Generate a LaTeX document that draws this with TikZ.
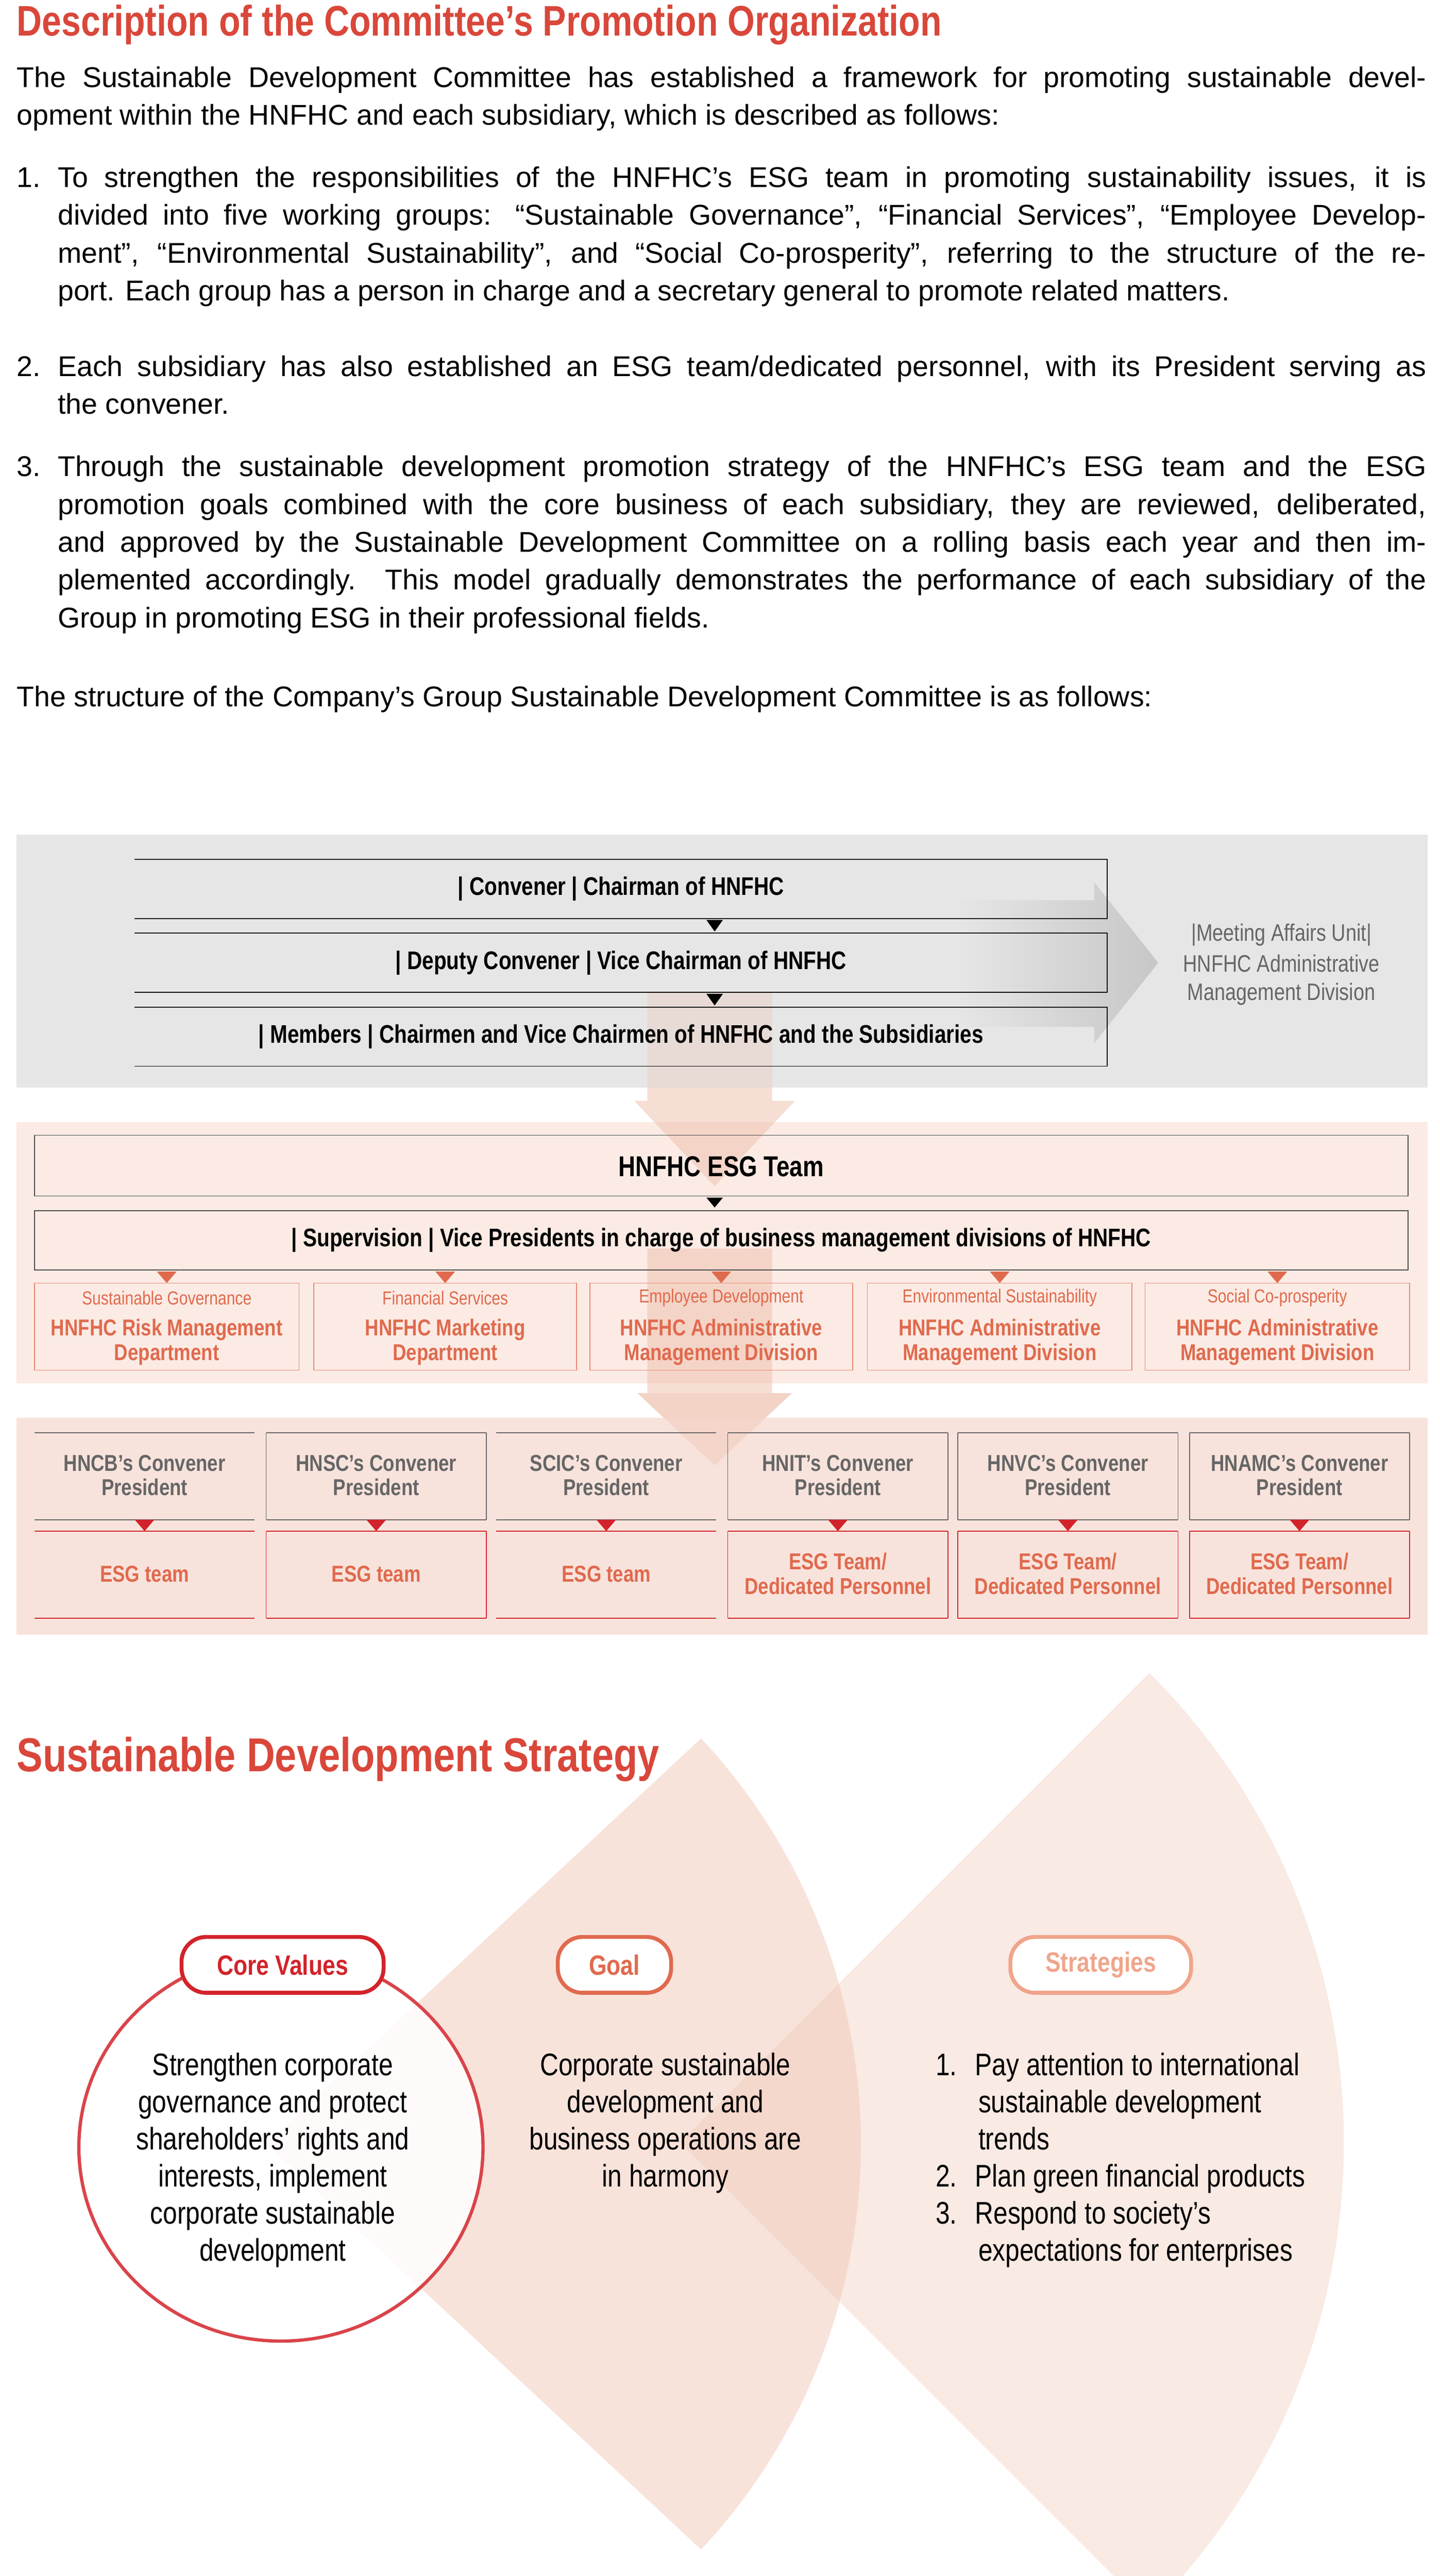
\documentclass[tikz,border=0pt]{standalone}
\usepackage{fontspec}
\setmainfont{Liberation Sans}
\newfontfamily\cf[FakeStretch=0.82]{Liberation Sans}
\definecolor{tred}{HTML}{D9473A}
\definecolor{bandA}{HTML}{E6E6E6}
\definecolor{bandB}{HTML}{FBEBE4}
\definecolor{bandC}{HTML}{F8E3DC}
\definecolor{sred}{HTML}{E06A4E}
\definecolor{dred}{HTML}{D2232A}
\definecolor{gtxt}{HTML}{666666}
\definecolor{leaf}{HTML}{EFC2B0}
\definecolor{pale}{HTML}{F0A58B}
\newcommand\jl[4]{\node[anchor=base west,inner sep=0] (#1) at (#2) {\hbox to #3pt{#4}};}
\newcommand\nl[3]{\node[anchor=base west,inner sep=0] (#1) at (#2) {#3};}
\begin{document}
\begin{tikzpicture}[x=1pt,y=-1pt,
  body/.style={font=\fontsize{17.4}{20}\selectfont},
  topbox/.style={draw=black,line width=0.6pt},
  gtri/.style={fill=black},
  rtri/.style={fill=sred},
  dtri/.style={fill=dred},
  wg/.style={draw=sred!80,line width=0.5pt},
  pill/.style={rounded corners=15pt,fill=white,line width=2.4pt},
  varrow/.style={fill=leaf,fill opacity=0.55}]
\useasboundingbox (0,0) rectangle (876.2,1568);
% ---------- top text ----------
\node[anchor=west,inner sep=0,text=tred,font=\cf\bfseries\fontsize{26}{30}\selectfont] (t1) at (10,15) {Description of the Committee’s Promotion Organization};
\begin{scope}[body]
\jl{l1}{10,53}{858}{The Sustainable Development Committee has established a framework for promoting sustainable devel-}
\nl{l2}{10,76}{opment within the HNFHC and each subsidiary, which is described as follows:}
\nl{n1}{10,114}{1.}
\jl{l3}{35,114}{833}{To strengthen the responsibilities of the HNFHC’s ESG team in promoting sustainability issues, it is}
\jl{l4}{35,137}{833}{divided into five working groups: “Sustainable Governance”, “Financial Services”, “Employee Develop-}
\jl{l5}{35,160}{833}{ment”, “Environmental Sustainability”, and “Social Co-prosperity”, referring to the structure of the re-}
\nl{l6}{35,183}{port. Each group has a person in charge and a secretary general to promote related matters.}
\nl{n2}{10,229}{2.}
\jl{l7}{35,229}{833}{Each subsidiary has also established an ESG team/dedicated personnel, with its President serving as}
\nl{l8}{35,252}{the convener.}
\nl{n3}{10,290}{3.}
\jl{l9}{35,290}{833}{Through the sustainable development promotion strategy of the HNFHC’s ESG team and the ESG}
\jl{l10}{35,313}{833}{promotion goals combined with the core business of each subsidiary, they are reviewed, deliberated,}
\jl{l11}{35,336}{833}{and approved by the Sustainable Development Committee on a rolling basis each year and then im-}
\jl{l12}{35,359}{833}{plemented accordingly. This model gradually demonstrates the performance of each subsidiary of the}
\nl{l13}{35,382}{Group in promoting ESG in their professional fields.}
\nl{l14}{10,430}{The structure of the Company’s Group Sustainable Development Committee is as follows:}
\end{scope}
% ---------- band 1 ----------
\fill[bandA] (10,508) rectangle (869,662);
\shade[left color=bandA,right color=black!22] (582,548) -- (666,548) -- (666,537) -- (705,586) -- (666,635) -- (666,625) -- (582,625) -- cycle;
\fill[leaf,fill opacity=0.3] (394,604) -- (470,604) -- (470,662) -- (394,662) -- cycle;
\foreach \a/\b in {523/559,568/604,613/649}{\draw[topbox] (82,\a) -- (674,\a) -- (674,\b) -- (82,\b);}
\begin{scope}[font=\cf\bfseries\fontsize{15.5}{18}\selectfont]
\node (c1) at (378,541) {| Convener | Chairman of HNFHC};
\node (c2) at (378,586) {| Deputy Convener | Vice Chairman of HNFHC};
\node (c3) at (378,631) {| Members | Chairmen and Vice Chairmen of HNFHC and the Subsidiaries};
\end{scope}
\fill[gtri] (430,560) -- (440,560) -- (435,567) -- cycle;
\fill[gtri] (430,605) -- (440,605) -- (435,612) -- cycle;
\node[text=gtxt,align=center,font=\cf\fontsize{14.5}{17}\selectfont] (mau) at (780,587) {|Meeting Affairs Unit|\\[2pt]HNFHC Administrative\\Management Division};
% ---------- band 2 ----------
\fill[bandB] (10,683) rectangle (869,842);
\fill[varrow] (394,662) -- (470,662) -- (470,670) -- (484,670) -- (435,722) -- (386,670) -- (394,670) -- cycle;
\fill[varrow] (394,760) -- (470,760) -- (470,848) -- (482,848) -- (435,892) -- (388,848) -- (394,848) -- cycle;
\draw[topbox,line width=0.5pt,draw=black!70] (21,691) rectangle (857,728);
\draw[topbox,line width=0.5pt,draw=black!70] (21,737) rectangle (857,773);
\node[font=\cf\bfseries\fontsize{17.5}{20}\selectfont] (esg) at (439,710) {HNFHC ESG Team};
\node[font=\cf\bfseries\fontsize{15.5}{18}\selectfont] (sup) at (439,755) {| Supervision | Vice Presidents in charge of business management divisions of HNFHC};
\fill[gtri] (430,729) -- (440,729) -- (435,735) -- cycle;
\foreach \x/\y/\h/\n/\m [count=\i] in {21/182/Sustainable Governance/HNFHC Risk Management/Department,
  191/351/Financial Services/HNFHC Marketing/Department,
  359/519/Employee Development/HNFHC Administrative/Management Division,
  528/689/Environmental Sustainability/HNFHC Administrative/Management Division,
  697/858/Social Co-prosperity/HNFHC Administrative/Management Division}{
  \draw[wg] (\x,781) rectangle (\y,834);
  \fill[rtri] ({(\x+\y)/2-6},774) -- ({(\x+\y)/2+6},774) -- ({(\x+\y)/2},781) -- cycle;
  \node[text=sred,font=\cf\fontsize{11.5}{13}\selectfont] (wh\i) at ({(\x+\y)/2},790) {\h};
  \node[text=sred,align=center,font=\cf\bfseries\fontsize{14}{15}\selectfont] (wn\i) at ({(\x+\y)/2},817) {\n\\\m};
}
% ---------- band 3 ----------
\fill[bandC] (10,863) rectangle (869,995);
\fill[varrow,fill opacity=0.4] (394,848) -- (482,848) -- (435,892) -- (388,848) -- cycle;
\foreach \x/\y/\t/\b/\s [count=\i] in {21/155/HNCB’s/ESG team/0,162/296/HNSC’s/ESG team/1,302/436/SCIC’s/ESG team/0,
  443/577/HNIT’s/{ESG Team/\\Dedicated Personnel}/1,583/717/HNVC’s/{ESG Team/\\Dedicated Personnel}/1,724/858/HNAMC’s/{ESG Team/\\Dedicated Personnel}/1}{
  \draw[black!60,line width=0.7pt] (\x,872) -- (\y,872) (\x,925) -- (\y,925);
  \draw[dred,line width=0.7pt] (\x,932) -- (\y,932) (\x,985) -- (\y,985);
  \ifnum\s=1
    \draw[black!60,line width=0.5pt] (\x,872) -- (\x,925) (\y,872) -- (\y,925);
    \draw[dred,line width=0.5pt] (\x,932) -- (\x,985) (\y,932) -- (\y,985);
  \fi
  \fill[dtri] ({(\x+\y)/2-6},925) -- ({(\x+\y)/2+6},925) -- ({(\x+\y)/2},932) -- cycle;
  \node[text=gtxt,align=center,font=\cf\bfseries\fontsize{14}{15}\selectfont] (cv\i) at ({(\x+\y)/2},898) {\t\ Convener\\President};
  \node[text=sred,align=center,font=\cf\bfseries\fontsize{14}{15}\selectfont] (et\i) at ({(\x+\y)/2},958) {\b};
}
% ---------- strategy ----------
\fill[leaf,fill opacity=0.35] (414,1304) -- ++(45:404) arc[start angle=45,end angle=-45,radius=404] -- cycle;
\fill[leaf,fill opacity=0.45] (162,1305) -- ++(43:362) arc[start angle=43,end angle=-43,radius=362] -- cycle;
\node[anchor=west,inner sep=0,text=tred,font=\cf\bfseries\fontsize{29}{32}\selectfont] (t2) at (10,1071) {Sustainable Development Strategy};
\draw[draw=dred!85,fill=white,fill opacity=0.85,line width=2pt] (171,1307) ellipse[x radius=123,y radius=118];
\node[pill,draw=dred,text=dred,minimum width=123pt,minimum height=34pt,font=\cf\bfseries\fontsize{17}{20}\selectfont] (cvp) at (172,1196) {Core Values};
\node[pill,draw=sred,text=sred,minimum width=69pt,minimum height=34pt,font=\cf\bfseries\fontsize{17}{20}\selectfont] (gp) at (374,1196) {Goal};
\node[pill,draw=pale,text=pale,minimum width=110pt,minimum height=34pt,font=\cf\bfseries\fontsize{17}{20}\selectfont] (sp) at (670,1196) {Strategies};
\begin{scope}[font=\cf\fontsize{19}{22.6}\selectfont]
\node[align=center,anchor=north] (cvt) at (166,1246) {Strengthen corporate\\governance and protect\\shareholders’ rights and\\interests, implement\\corporate sustainable\\development};
\node[align=center,anchor=north] (gt) at (405,1246) {Corporate sustainable\\development and\\business operations are\\in harmony};
\node[align=left,anchor=north west] (st) at (566,1246) {1.\hspace{11pt}Pay attention to international\\\hspace{26pt}sustainable development\\\hspace{26pt}trends\\2.\hspace{11pt}Plan green financial products\\3.\hspace{11pt}Respond to society’s\\\hspace{26pt}expectations for enterprises};
\end{scope}
\end{tikzpicture}
\end{document}
